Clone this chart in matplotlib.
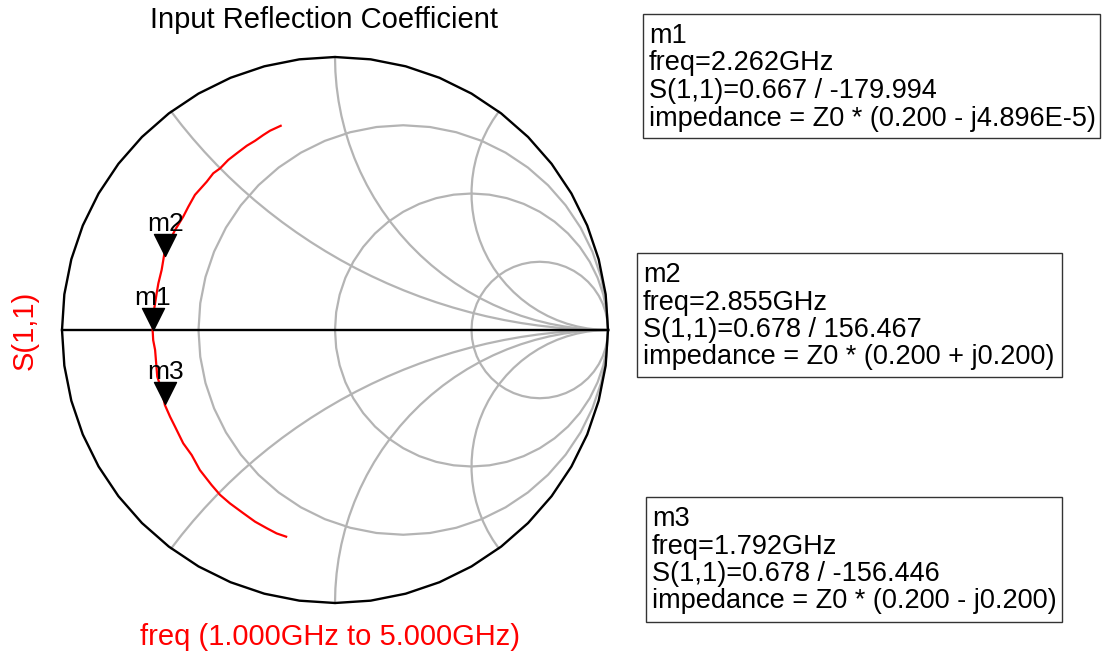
import numpy as np
import matplotlib
matplotlib.use("Agg")
import matplotlib.pyplot as plt
from matplotlib.path import Path
from matplotlib.patches import Rectangle

plt.rcParams['font.family'] = ['Liberation Sans', 'DejaVu Sans']

# S(1,1) trace, 1 GHz (bottom) -> 5 GHz (top)
s11_re = [-0.179, -0.214, -0.250, -0.293, -0.336, -0.385, -0.421, -0.452, -0.495,
          -0.525, -0.556, -0.586, -0.604, -0.623, -0.635, -0.651, -0.656, -0.659,
          -0.666, -0.668, -0.663, -0.653, -0.647, -0.635, -0.629, -0.623, -0.586,
          -0.556, -0.537, -0.513, -0.470, -0.446, -0.421, -0.391, -0.360, -0.323,
          -0.293, -0.263, -0.238, -0.199]
s11_im = [-0.757, -0.745, -0.726, -0.702, -0.671, -0.635, -0.604, -0.568, -0.513,
          -0.458, -0.415, -0.354, -0.318, -0.275, -0.220, -0.171, -0.110, -0.073,
          -0.037, 0.000, 0.073, 0.136, 0.171, 0.220, 0.256, 0.293, 0.366,
          0.415, 0.452, 0.495, 0.543, 0.574, 0.592, 0.623, 0.647, 0.675,
          0.693, 0.714, 0.730, 0.748]

# markers
m_names = ["m1", "m2", "m3"]
m_freq = [2.262, 2.855, 1.792]
m_mag = [0.667, 0.678, 0.678]
m_ang = [-179.994, 156.467, -156.446]
m_imp = ["0.200 - j4.896E-5", "0.200 + j0.200", "0.200 - j0.200"]

# smith grid
r_vals = [1 / 3, 1.0, 3.0]
x_vals = [0.5, 1.0, 2.0]

W, H = 1108, 661
cx, cy, R = 335, 330, 273
pad = 1.03

fig = plt.figure(figsize=(W / 100, H / 100), dpi=100)
ax = fig.add_axes([(cx - R * pad) / W, (H - cy - R * pad) / H,
                   2 * R * pad / W, 2 * R * pad / H])
ax.set_xlim(-pad, pad)
ax.set_ylim(-pad, pad)
ax.axis("off")

grid_c = "#b4b4b4"
# resistance circles
for r in r_vals:
    t = np.linspace(0, 2 * np.pi, 49)
    c, rad = r / (1 + r), 1 / (1 + r)
    ax.plot(c + rad * np.cos(t), rad * np.sin(t), color=grid_c, lw=1.6)
# reactance arcs
for x in x_vals:
    ge = (1j * x - 1) / (1j * x + 1)
    a0 = -np.pi / 2
    a1 = np.arctan2(ge.imag - 1 / x, ge.real - 1)
    if a1 > a0:
        a1 -= 2 * np.pi
    t = np.linspace(a0, a1, 30)
    px = 1 + np.cos(t) / x
    py = 1 / x + np.sin(t) / x
    ax.plot(px, py, color=grid_c, lw=1.6)
    ax.plot(px, -py, color=grid_c, lw=1.6)

t = np.linspace(0, 2 * np.pi, 49)
ax.plot(np.cos(t), np.sin(t), color="black", lw=1.7)
ax.plot([-1, 1], [0, 0], color="black", lw=1.7)

ax.plot(s11_re, s11_im, color="red", lw=1.6)

tri = Path([(0, 0), (-0.5, 1), (0.5, 1), (0, 0)],
           [Path.MOVETO, Path.LINETO, Path.LINETO, Path.CLOSEPOLY])
for name, mag, ang in zip(m_names, m_mag, m_ang):
    g = mag * np.exp(1j * np.deg2rad(ang))
    ax.plot(g.real, g.imag, marker=tri, ms=31.7, color="black", ls="none")
    ax.annotate(name, xy=(g.real, g.imag), xytext=(0, 25), textcoords="offset pixels",
                ha="center", va="baseline", fontsize=19)

fig.text(324 / W, 1 - 20 / H, "Input Reflection Coefficient", ha="center", va="center",
         fontsize=21)
fig.text(25 / W, 1 - 330 / H, "S(1,1)", rotation=90, ha="center", va="center",
         fontsize=21, color="red")
fig.text(330 / W, 1 - 637 / H, "freq (1.000GHz to 5.000GHz)", ha="center", va="center",
         fontsize=21, color="red")

boxes = [(643, 14, 1100, 138), (637, 253, 1062, 377), (646, 497, 1062, 622)]
for (x0, y0, x1, y1), name, f, mag, ang, imp in zip(boxes, m_names, m_freq, m_mag, m_ang, m_imp):
    fig.add_artist(Rectangle((x0 / W, 1 - y1 / H), (x1 - x0) / W, (y1 - y0) / H,
                             transform=fig.transFigure, fill=False, ec="#333333", lw=1))
    lines = [name, f"freq={f:.3f}GHz", f"S(1,1)={mag:.3f} / {ang:.3f}",
             f"impedance = Z0 * ({imp})"]
    for i, s in enumerate(lines):
        fig.text((x0 + 6) / W, 1 - (y0 + 29 + 27.5 * i) / H, s, ha="left", va="baseline",
                 fontsize=19.5)

fig.savefig("out.png", dpi=100)
